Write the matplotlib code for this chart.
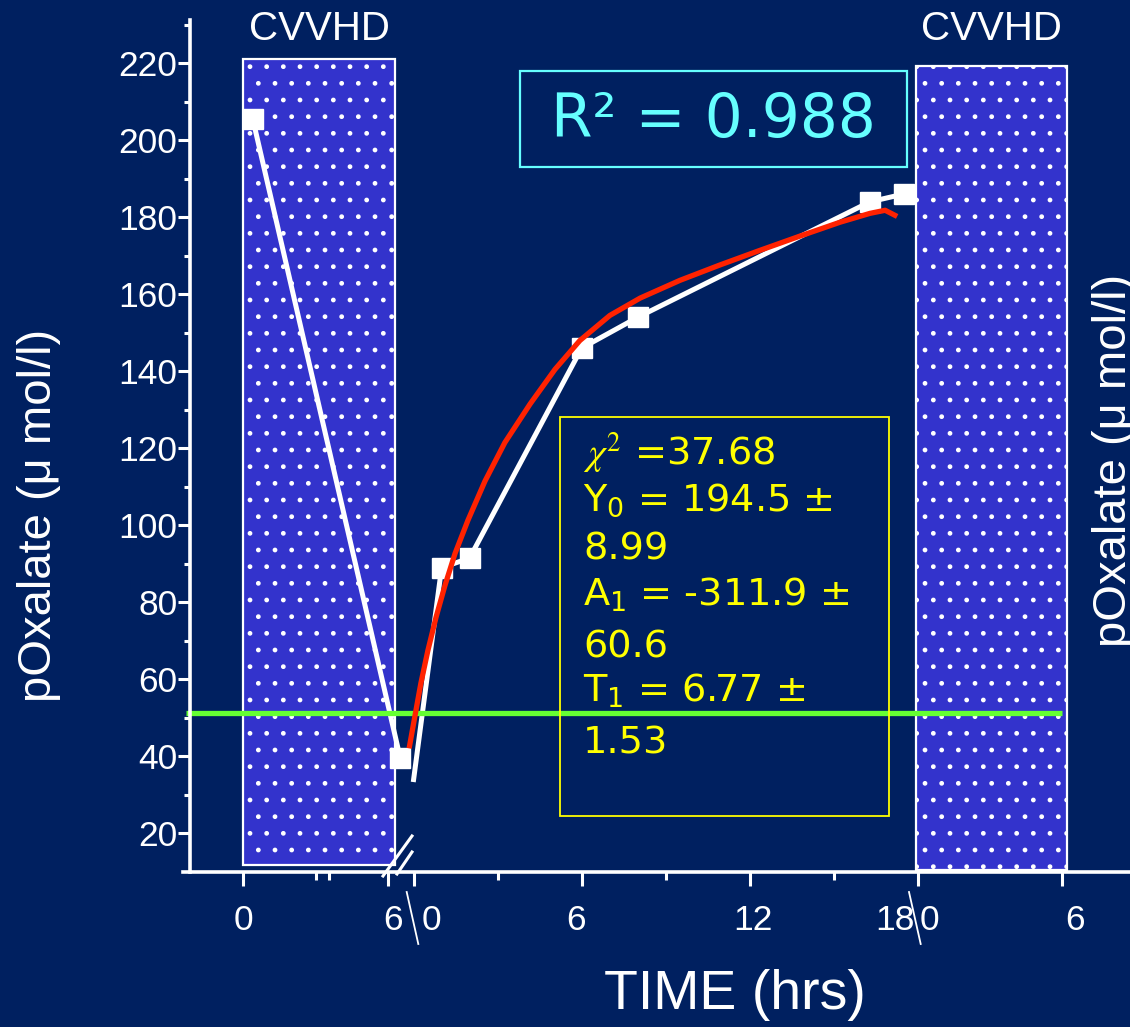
import matplotlib
matplotlib.use('Agg')
import matplotlib.pyplot as plt
from matplotlib.patches import Rectangle
from matplotlib.lines import Line2D

# ---------------- data ----------------
# first CVVHD segment (hours on segment 1)
seg1_hours = [0.4, 6.5]
seg1_oxalate = [205.5, 39.5]
# off-dialysis segment (hours on segment 2)
seg2_hours = [0, 1, 2, 6, 8, 16.3, 17.5]
seg2_oxalate = [34, 89, 91.5, 146, 154, 184, 186]
# fitted curve (hours on segment 2)
fit_hours = [-0.16, 0.05, 0.26, 0.51, 0.8, 1.12, 1.48, 1.94, 2.55, 3.26, 4.16,
             5.05, 5.94, 7.01, 8.09, 9.51, 10.94, 12.37, 13.8, 15.23, 16.3, 16.84, 17.27]
fit_oxalate = [42.1, 50.6, 59.0, 67.5, 76.1, 84.4, 92.7, 101.3, 111.5, 121.5, 131.5,
               140.5, 148.0, 154.5, 159.0, 163.6, 167.6, 171.4, 175.1, 178.7, 181.0, 181.8, 180.2]
threshold = 51.4

cvvhd_segment = [1, 3]
cvvhd_start = [0, 0]
cvvhd_end = [6.3, 6.2]
cvvhd_top = [221, 219.2]
cvvhd_bottom = [11.7, 10.4]
cvvhd_label = ["CVVHD", "CVVHD"]

y_major = [20, 40, 60, 80, 100, 120, 140, 160, 180, 200, 220]
y_minor = [30, 50, 70, 90, 110, 130, 150, 170, 190, 210, 230]

x_major = [(1, 0), (1, 6), (2, 0), (2, 6), (2, 12), (2, 18), (3, 6)]
x_minor = [(1, 3.0), (1, 3.55), (2, 3), (2, 9), (2, 15)]
x_labels = ["0", "6", "0", "6", "12", "18", "0", "6"]
x_label_pos = [(1, 0), (1, 6), (2, 0), (2, 6), (2, 12), (2, 18), (3, 0), (3, 6)]

r2_text = "R² = 0.988"
stats_lines = [r"$\chi^2$ =37.68", r"Y$_0$ = 194.5 ±", "8.99", r"A$_1$ = -311.9 ±",
               "60.6", r"T$_1$ = 6.77 ±", "1.53"]

# ---------------- layout helpers ----------------
SEG_OFFSET = {1: -6.09, 2: 0.0, 3: 17.94}
SEG_SCALE = {1: 0.864, 2: 1.0, 3: 0.870}


def to_u(seg, h):
    return SEG_OFFSET[seg] + SEG_SCALE[seg] * h


BG = '#002060'
W, H = 1130, 1027
fig = plt.figure(figsize=(W / 100, H / 100), dpi=100, facecolor=BG)
ax = fig.add_axes([183 / W, 1 - 872 / H, 1 - 183 / W, (872 - 20) / H])
ax.set_facecolor(BG)

XMIN, XMAX = (183 - 413.6) / 28, (1130 - 413.6) / 28
ax.set_xlim(XMIN, XMAX)
ax.set_ylim(10, 231.2)

for s in ['top', 'right']:
    ax.spines[s].set_visible(False)
ax.spines['left'].set_position(('data', (190 - 413.6) / 28))
for s in ['left', 'bottom']:
    ax.spines[s].set_color('white')
    ax.spines[s].set_linewidth(2.6)
    ax.spines[s].set_zorder(6)

ax.set_yticks(y_major)
ax.set_yticks(y_minor, minor=True)
ax.set_yticklabels([str(v) for v in y_major], color='white', fontsize=25.5,
                   family='Liberation Sans')
ax.tick_params(axis='y', which='major', length=9, width=2.2, color='white', pad=0)
ax.tick_params(axis='y', which='minor', length=4.5, width=2.2, color='white')

ax.set_xticks([to_u(s, h) for s, h in x_major])
ax.set_xticks([to_u(s, h) for s, h in x_minor], minor=True)
ax.set_xticklabels([])
ax.tick_params(axis='x', which='major', length=10, width=2.2, color='white')
ax.tick_params(axis='x', which='minor', length=6, width=2.2, color='white')

# CVVHD boxes
for seg, a, b, top, bot, lab in zip(cvvhd_segment, cvvhd_start, cvvhd_end,
                                     cvvhd_top, cvvhd_bottom, cvvhd_label):
    x0, x1 = to_u(seg, a), to_u(seg, b)
    ax.add_patch(Rectangle((x0, bot), x1 - x0, top - bot, facecolor='#3333cc',
                           edgecolor='white', hatch='.', linewidth=1.6, zorder=2))
    xc = ax.transData.transform(((x0 + x1) / 2, 0))[0]
    fig.text(xc / W, 1 - 29 / H, lab, ha='center', va='center', color='white',
             fontsize=29, family=['Liberation Sans Narrow', 'Liberation Sans'])

# threshold line
ax.plot([to_u(1, -1.3) - 0.9, to_u(3, 6)], [threshold, threshold],
        color='#66ff33', lw=3.8, zorder=5, clip_on=False, solid_capstyle='butt')

# data lines
ax.plot([to_u(1, h) for h in seg1_hours], seg1_oxalate, color='white', lw=3.6,
        marker='s', ms=15, mfc='white', mec='white', zorder=4)
ax.plot([to_u(2, h) for h in seg2_hours], seg2_oxalate, color='white', lw=3.6,
        zorder=4)
ax.plot([to_u(2, h) for h in seg2_hours[1:]], seg2_oxalate[1:], ls='none',
        marker='s', ms=15, mfc='white', mec='white', zorder=4)
ax.plot([to_u(2, h) for h in fit_hours], fit_oxalate, color='#ff2200', lw=3.8,
        zorder=6, solid_capstyle='butt', solid_joinstyle='round')

# x tick labels (slightly offset as in the original)
label_dx_px = [0, 5, 18, -6, 3, -23, 14, 13]
for lab, (s, h), dx in zip(x_labels, x_label_pos, label_dx_px):
    fig.text((ax.transData.transform((to_u(s, h), 0))[0] + dx) / W, 1 - 920 / H, lab,
             ha='center', va='center', color='white', fontsize=25.5,
             family='Liberation Sans')


# break marks
def fig_line(x0, y0, x1, y1, lw):
    fig.add_artist(Line2D([x0 / W, x1 / W], [1 - y0 / H, 1 - y1 / H],
                          color='white', lw=lw, transform=fig.transFigure, zorder=10))


fig_line(412, 836, 383, 876, 2.2)
fig_line(412, 852, 397, 874, 2.2)
fig_line(406.7, 892, 418.3, 944, 1.3)
fig_line(909, 892, 920.7, 944, 1.3)

# axis labels
fig.text(39 / W, 1 - 515 / H, "pOxalate (μ mol/l)", rotation=90, ha='center',
         va='center', color='white', fontsize=34, family='Liberation Sans')
fig.text(1114 / W, 1 - 460 / H, "pOxalate (μ mol/l)", rotation=90, ha='center',
         va='center', color='white', fontsize=34, family='Liberation Sans')
fig.text(735 / W, 1 - 995 / H, "TIME (hrs)", ha='center', va='center',
         color='white', fontsize=40, family='Liberation Sans')

# R^2 box
fig.add_artist(Rectangle((520 / W, 1 - 167 / H), (907 - 520) / W, (167 - 71) / H,
                         transform=fig.transFigure, facecolor='none',
                         edgecolor='#66ffff', lw=1.6, zorder=10))
fig.text(713 / W, 1 - 121 / H, r2_text, ha='center', va='center', color='#66ffff',
         fontsize=43, family='DejaVu Sans')

# statistics box
fig.add_artist(Rectangle((560 / W, 1 - 816 / H), (889 - 560) / W, (816 - 417) / H,
                         transform=fig.transFigure, facecolor='none',
                         edgecolor='#ffff00', lw=1.3, zorder=10))
baselines = [465, 511, 560, 606, 657, 702, 753]
for i, (line, yb) in enumerate(zip(stats_lines, baselines)):
    fig.text(583 / W, 1 - yb / H, line, ha='left', va='baseline', color='#ffff00',
             fontsize=27.5, family='DejaVu Sans',
             math_fontfamily='stix' if i == 0 else 'dejavusans')

fig.savefig('out.png', dpi=100, facecolor=BG)
